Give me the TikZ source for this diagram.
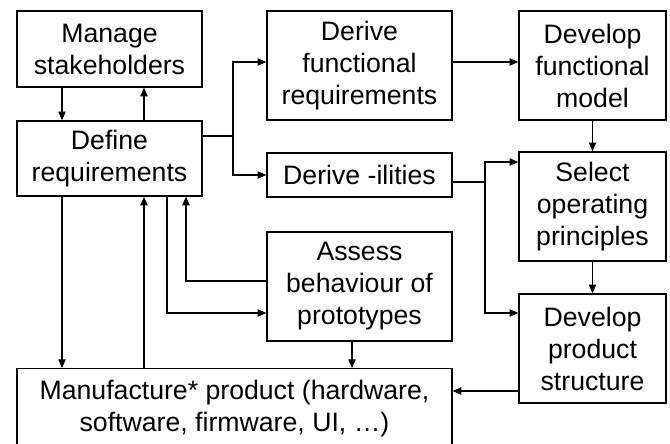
\documentclass[tikz,border=0pt]{standalone}
\usepackage{fontspec}
\setmainfont{Liberation Sans}
\usetikzlibrary{arrows.meta,positioning,calc}

\begin{document}
\begin{tikzpicture}[x=0.75pt,y=-0.75pt,
  stage/.style={draw,line width=1.1pt,inner sep=0pt,align=center,font=\fontsize{20}{24}\selectfont},
  wire/.style={line width=0.8pt},
  flow/.style={wire,-{Triangle[length=6.5pt,width=5.5pt]}}]

% Page frame
\useasboundingbox (0,0) rectangle (670,443);

% Guide lines for the connectors
\coordinate (colA) at (62,0);
\coordinate (colB) at (144,0);
\coordinate (colC) at (167,0);
\coordinate (colD) at (186,0);
\coordinate (colE) at (352,0);
\coordinate (rowT) at (0,62);
\coordinate (rowU) at (0,162);
\coordinate (rowA) at (0,281);
\coordinate (rowB) at (0,313);
\coordinate (rowM) at (0,391);
\coordinate (split) at (233,136);
\coordinate (join) at (485,182);

% Left column
\node[stage,minimum width=185*0.75pt,minimum height=76*0.75pt] (manage) at (109.5,49) {Manage\\stakeholders};
\node[stage,minimum width=185*0.75pt,minimum height=75*0.75pt] (define) at (109.5,158.5) {Define\\requirements};

% Middle column
\node[stage,minimum width=185*0.75pt,minimum height=109*0.75pt] (derivef) at (359.5,65.5) {Derive\\functional\\requirements};
\node[stage,minimum width=185*0.75pt,minimum height=44*0.75pt] (ilities) at (359.5,175) {Derive -ilities};
\node[stage,minimum width=185*0.75pt,minimum height=109*0.75pt] (assess) at (359.5,286.5) {Assess\\behaviour of\\prototypes};

% Right column
\node[stage,minimum width=147*0.75pt,minimum height=109*0.75pt] (model) at (592.5,65.5) {Develop\\functional\\model};
\node[stage,minimum width=147*0.75pt,minimum height=109*0.75pt] (select) at (592.5,206.5) {Select\\operating\\principles};
\node[stage,minimum width=147*0.75pt,minimum height=109*0.75pt] (struct) at (592.5,348.5) {Develop\\product\\structure};

% Bottom box (runs off the page)
\node[stage,anchor=north,minimum width=435*0.75pt,minimum height=80*0.75pt] (make) at (234.5,368) {Manufacture* product (hardware,\\software, firmware, UI, …)};

% Stakeholders <-> requirements
\draw[flow] (manage.south -| colA) -- (define.north -| colA);
\draw[flow] (define.north -| colB) -- (manage.south -| colB);

% Requirements -> derivations
\draw[wire] (define.east |- split) -- (split);
\draw[flow] (split) |- (derivef.west |- rowT);
\draw[flow] (split) |- (ilities.west);
\draw[flow] (derivef.east |- rowT) -- (model.west |- rowT);
\draw[flow] (model.south) -- (select.north);

% -ilities feed both right boxes
\draw[wire] (ilities.east |- join) -- (join);
\draw[flow] (join) |- (select.west |- rowU);
\draw[flow] (join) |- (struct.west |- rowB);
\draw[flow] (select.south) -- (struct.north);
\draw[flow] (struct.west |- rowM) -- (make.east |- rowM);

% Prototypes loop
\draw[flow] (define.south -| colC) |- (assess.west |- rowB);
\draw[flow] (assess.west |- rowA) -| (define.south -| colD);
\draw[flow] (assess.south -| colE) -- (make.north -| colE);

% Requirements <-> manufacture
\draw[flow] (define.south -| colA) -- (make.north -| colA);
\draw[flow] (make.north -| colB) -- (define.south -| colB);
\end{tikzpicture}
\end{document}
